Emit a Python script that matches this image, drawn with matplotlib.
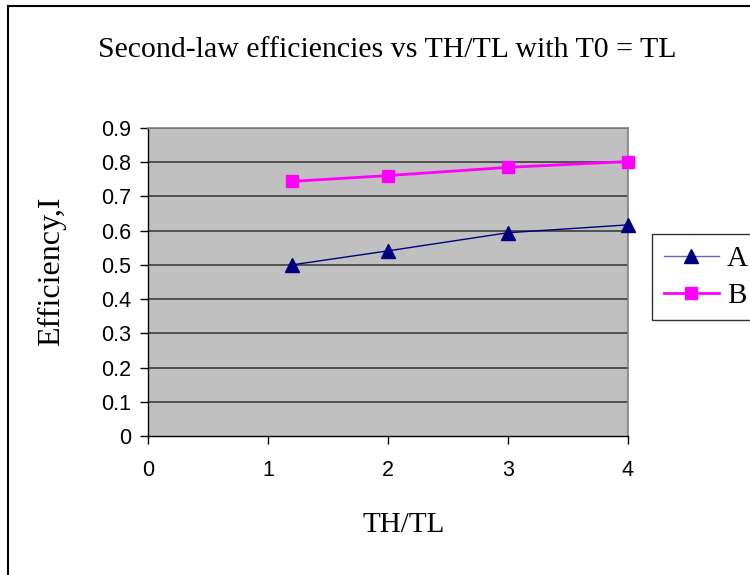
import matplotlib
matplotlib.use("Agg")
import matplotlib.pyplot as plt
from matplotlib.lines import Line2D

# Data
ratio = [1.2, 2, 3, 4]
eff_A = [0.50, 0.541, 0.594, 0.617]
eff_B = [0.744, 0.761, 0.785, 0.802]
x_ticks = [0, 1, 2, 3, 4]
y_ticks = [0, 0.1, 0.2, 0.3, 0.4, 0.5, 0.6, 0.7, 0.8, 0.9]
series_names = ["A", "B"]

serif = "Liberation Serif"
sans = "Liberation Sans"

fig = plt.figure(figsize=(7.5, 5.75), dpi=100)
fig.patch.set_facecolor("white")

ax = fig.add_axes([148 / 750, 1 - 436 / 575, 480 / 750, 308 / 575])
ax.set_facecolor("#C0C0C0")

for y in y_ticks[1:]:
    ax.axhline(y, color="#333333", lw=1.1, zorder=1)

ax.plot(ratio, eff_A, color="#000080", lw=1.0, marker="^", markersize=10,
        markerfacecolor="#000080", markeredgecolor="#000080", zorder=3,
        label=series_names[0], clip_on=False)
ax.plot(ratio, eff_B, color="#FF00FF", lw=2.0, marker="s", markersize=8.5,
        markerfacecolor="#FF00FF", markeredgecolor="#FF00FF", zorder=3,
        label=series_names[1], clip_on=False)

ax.set_xlim(0, 4)
ax.set_ylim(0, 0.9)
ax.set_xticks(x_ticks)
ax.set_yticks(y_ticks)
ax.set_xticklabels([str(v) for v in x_ticks], fontfamily=sans, fontsize=15.5)
ax.set_yticklabels(["0"] + [f"{v:.1f}" for v in y_ticks[1:]], fontfamily=sans, fontsize=15.5)
ax.tick_params(axis="x", direction="out", length=6, width=1, pad=11, colors="black")
ax.tick_params(axis="y", direction="out", length=6, width=1, pad=6, colors="black")

for side in ["top", "right"]:
    ax.spines[side].set_color("#808080")
    ax.spines[side].set_linewidth(1.2)
for side in ["left", "bottom"]:
    ax.spines[side].set_color("black")
    ax.spines[side].set_linewidth(1.0)

fig.text(387 / 750, 1 - 50 / 575, "Second-law efficiencies vs TH/TL with T0 = TL",
         fontfamily=serif, fontsize=21.5, ha="center", va="center")
fig.text(52 / 750, 1 - 271 / 575, "Efficiency,I", fontfamily=serif, fontsize=23,
         ha="center", va="center", rotation=90)
fig.text(404 / 750, 1 - 525 / 575, "TH/TL", fontfamily=serif, fontsize=21,
         ha="center", va="center")

# Legend
leg = fig.legend(loc="upper left", bbox_to_anchor=(652 / 750, 1 - 234 / 575),
                 frameon=True, fancybox=False, edgecolor="black",
                 prop={"family": serif, "size": 21}, handlelength=1.9,
                 handletextpad=0.27, borderpad=0.4, labelspacing=0.35,
                 borderaxespad=0)
leg.get_frame().set_linewidth(1.0)
leg.legend_handles[0].set_color("#6666B3")

# Outer chart border (left and top edges)
fig.add_artist(Line2D([8 / 750, 8 / 750], [0, 1 - 6 / 575], transform=fig.transFigure,
                      color="black", lw=1.5))
fig.add_artist(Line2D([8 / 750, 1], [1 - 6 / 575, 1 - 6 / 575], transform=fig.transFigure,
                      color="black", lw=1.5))

fig.savefig("out.png", dpi=100)
